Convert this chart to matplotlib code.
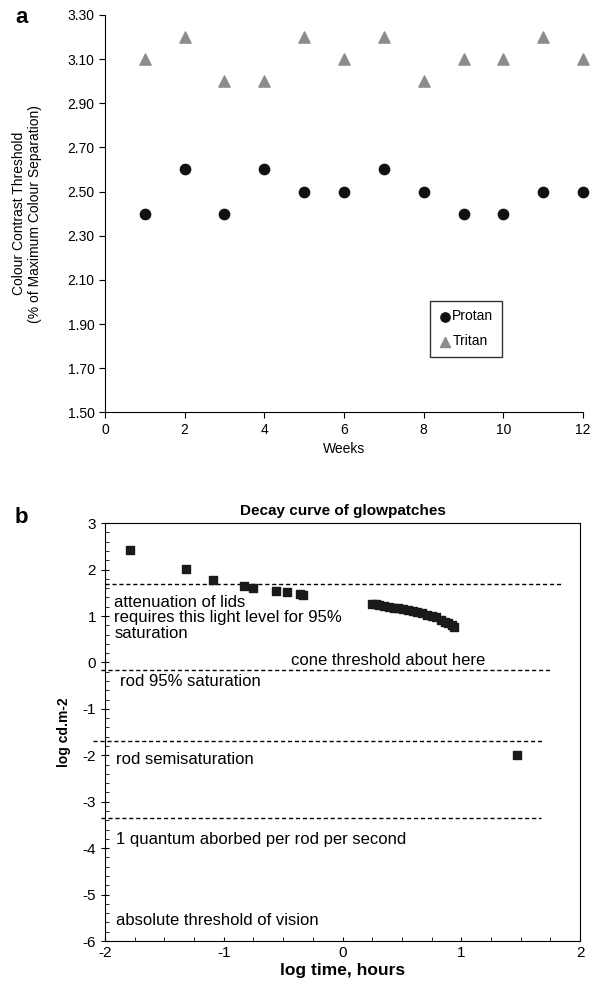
import numpy as np
import matplotlib.pyplot as plt
from matplotlib.ticker import MultipleLocator

plt.rcParams['font.family'] = ['Liberation Sans', 'DejaVu Sans']
plt.rcParams['axes.unicode_minus'] = False

# Panel a data
weeks = [1, 2, 3, 4, 5, 6, 7, 8, 9, 10, 11, 12]
protan = [2.40, 2.60, 2.40, 2.60, 2.50, 2.50, 2.60, 2.50, 2.40, 2.40, 2.50, 2.50]
tritan = [3.10, 3.20, 3.00, 3.00, 3.20, 3.10, 3.20, 3.00, 3.10, 3.10, 3.20, 3.10]
a_yticks = [1.50, 1.70, 1.90, 2.10, 2.30, 2.50, 2.70, 2.90, 3.10, 3.30]

# Panel b data
log_time = [-1.79, -1.32, -1.09, -0.83, -0.75, -0.56, -0.47, -0.36, -0.33,
            0.25, 0.28, 0.31, 0.35, 0.39, 0.43, 0.47, 0.51, 0.55, 0.59,
            0.63, 0.67, 0.71, 0.75, 0.79, 0.83, 0.86, 0.89, 0.92, 0.94,
            1.47]
log_lum = [2.43, 2.02, 1.77, 1.65, 1.61, 1.54, 1.51, 1.47, 1.45,
           1.26, 1.25, 1.24, 1.22, 1.20, 1.18, 1.17, 1.15, 1.13, 1.11,
           1.08, 1.06, 1.03, 1.00, 0.97, 0.92, 0.88, 0.84, 0.80, 0.77,
           -2.00]
ref_levels = [1.69, -0.17, -1.70, -3.35]
ref_ends = [1.84, 1.76, 1.70, 1.67]
ref_starts = [-2.0, -2.03, -2.1, -2.03]
notes = [
    ("attenuation of lids\nrequires this light level for 95%\nsaturation", -1.92, 1.46, 'top'),
    ("cone threshold about here", -0.43, -0.12, 'bottom'),
    ("rod 95% saturation", -1.87, -0.41, 'center'),
    ("rod semisaturation", -1.91, -2.08, 'center'),
    ("1 quantum aborbed per rod per second", -1.91, -3.81, 'center'),
    ("absolute threshold of vision", -1.91, -5.56, 'center'),
]

fig = plt.figure(figsize=(6.03, 9.89), dpi=100)

# ---- panel a ----
ax1 = fig.add_axes([0.174, 0.583, 0.793, 0.402])
ax1.scatter(weeks, protan, marker='o', s=55, color='#111111', label='Protan',
            zorder=3, clip_on=False)
ax1.scatter(weeks, tritan, marker='^', s=65, color='#8c8c8c', label='Tritan',
            zorder=3, clip_on=False)
ax1.set_xlim(0, 12)
ax1.set_ylim(1.5, 3.3)
ax1.set_xticks(range(0, 13, 2))
ax1.set_yticks(a_yticks)
ax1.set_yticklabels([f"{v:.2f}" for v in a_yticks])
ax1.spines['top'].set_visible(False)
ax1.spines['right'].set_visible(False)
ax1.tick_params(direction='out', length=4, labelsize=10)
ax1.set_xlabel('Weeks', fontsize=10)
ax1.set_ylabel('Colour Contrast Threshold\n(% of Maximum Colour Separation)',
               fontsize=10, labelpad=18)
leg = ax1.legend(loc='lower right', bbox_to_anchor=(0.83, 0.14), fontsize=10,
                 frameon=True, fancybox=False, handletextpad=0.1,
                 handlelength=0.9, borderpad=0.6, labelspacing=0.8,
                 markerscale=0.9, borderaxespad=0)
leg.get_frame().set_edgecolor('black')
leg.get_frame().set_linewidth(1.0)
fig.text(0.025, 0.977, 'a', fontsize=16, fontweight='bold')

# ---- panel b ----
ax2 = fig.add_axes([0.174, 0.0485, 0.788, 0.4225])
ax2.scatter(log_time, log_lum, marker='s', s=36, color='#1a1a1a', zorder=3)
for lvl, x0, x1 in zip(ref_levels, ref_starts, ref_ends):
    ax2.plot([x0, x1], [lvl, lvl], color='black', lw=1.0,
             linestyle=(0, (3, 2)), clip_on=False)
for txt, x, y, va in notes:
    ax2.text(x, y, txt, fontsize=12, va=va, ha='left', linespacing=1.05)
ax2.set_xlim(-2, 2)
ax2.set_ylim(-6, 3)
ax2.set_xticks([-2, -1, 0, 1, 2])
ax2.set_yticks(range(-6, 4))
ax2.xaxis.set_minor_locator(MultipleLocator(0.25))
ax2.yaxis.set_minor_locator(MultipleLocator(0.2))
ax2.tick_params(axis='x', which='both', direction='in', length=3, labelsize=11)
ax2.tick_params(axis='y', which='major', direction='inout', length=6, labelsize=11)
ax2.tick_params(axis='y', which='minor', direction='in', length=3)
ax2.set_xlabel('log time, hours', fontsize=12.5, fontweight='bold', labelpad=2)
ax2.set_ylabel('log cd.m-2', fontsize=10, fontweight='bold', labelpad=8)
ax2.set_title('Decay curve of glowpatches', fontsize=11, fontweight='bold', pad=6)
fig.text(0.025, 0.471, 'b', fontsize=16, fontweight='bold')

fig.savefig('out.png', dpi=100)
